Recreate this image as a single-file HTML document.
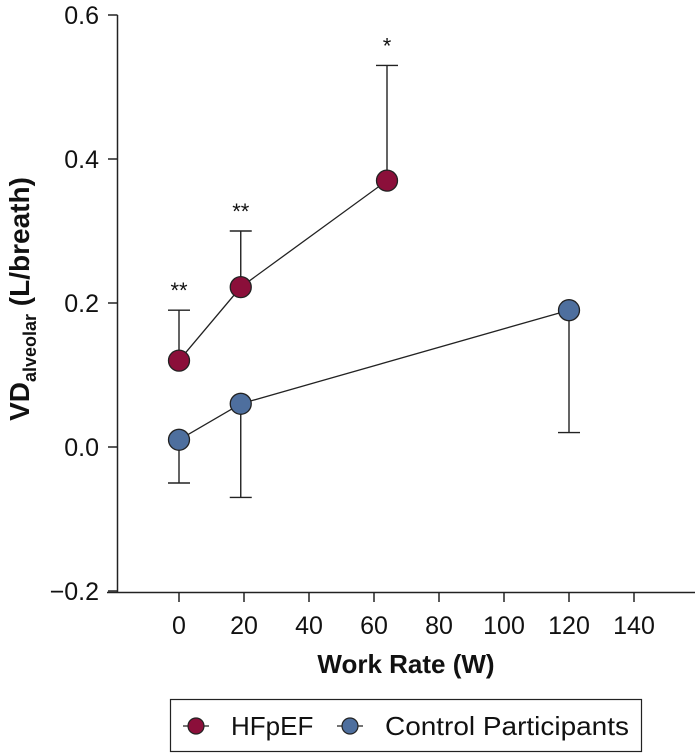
<!DOCTYPE html>
<html><head><meta charset="utf-8"><style>
html,body{margin:0;padding:0;background:#fff;}
svg{display:block;font-family:"Liberation Sans",Arial,sans-serif;}
</style></head><body>
<svg id="chart" width="695" height="755">
<g id="axes"></g>
<g id="marks"></g>
<text x="406" y="673" text-anchor="middle" font-size="26" font-weight="bold" fill="#111">Work Rate (W)</text>
<text transform="translate(29,299) rotate(-90)" text-anchor="middle" font-size="28" font-weight="bold" fill="#111">VD<tspan font-size="18" dy="7">alveolar</tspan><tspan dy="-7"> (L/breath)</tspan></text>
<g>
<rect x="170.5" y="699.5" width="471" height="52" fill="#fff" stroke="#222" stroke-width="1.2"/>
<g>
<line x1="183" y1="726" x2="209" y2="726" stroke="#222" stroke-width="1.2"/>
<circle cx="196" cy="726" r="8" fill="#8b0f3a" stroke="#222" stroke-width="1.2"/>
<text x="231" y="735" font-size="26" fill="#111">HFpEF</text></g>
<g>
<line x1="337" y1="726" x2="363" y2="726" stroke="#222" stroke-width="1.2"/>
<circle cx="350" cy="726" r="8" fill="#4e6f9e" stroke="#222" stroke-width="1.2"/>
<text x="385" y="735" font-size="26" fill="#111" textLength="244" lengthAdjust="spacingAndGlyphs">Control Participants</text></g>
</g>
</svg>
<script>
const xTicks=[0,20,40,60,80,100,120,140];
const yTicks=[-0.2,0.0,0.2,0.4,0.6];
const yTickLabels=["\u22120.2","0.0","0.2","0.4","0.6"];
const hfX=[0,19,64];
const hfY=[0.12,0.222,0.37];
const hfErr=[0.19,0.30,0.53];
const hfStars=["**","**","*"];
const ctX=[0,19,120];
const ctY=[0.01,0.06,0.19];
const ctErr=[-0.05,-0.07,0.02];
const NS="http://www.w3.org/2000/svg";
const xs=v=>179+v*3.25;
const ys=v=>447-v*720;
function mk(tag,attrs,parent){const e=document.createElementNS(NS,tag);for(const k in attrs)e.setAttribute(k,attrs[k]);parent.appendChild(e);return e;}
const ax=document.getElementById('axes'),mg=document.getElementById('marks');
let l=mk('line',{x1:117.5,y1:ys(0.6),x2:117.5,y2:592,stroke:'#222','stroke-width':1.5},ax);


l=mk('line',{x1:107,y1:592.5,x2:695,y2:592.5,stroke:'#222','stroke-width':1.5},ax);


yTicks.forEach((v,i)=>{
 const t=mk('line',{x1:108,y1:ys(v),x2:117.5,y2:ys(v),stroke:'#222','stroke-width':1.5},ax);
 
 
 const tx=mk('text',{x:99,y:ys(v)+9,'text-anchor':'end','font-size':25,fill:'#111'},ax);
 tx.textContent=yTickLabels[i];
 
 
});
xTicks.forEach(v=>{
 const t=mk('line',{x1:xs(v),y1:592,x2:xs(v),y2:602,stroke:'#222','stroke-width':1.5},ax);
 
 
 const tx=mk('text',{x:xs(v),y:634,'text-anchor':'middle','font-size':25,fill:'#111'},ax);
 tx.textContent=v;
 
 
});
function series(X,Y,E,color,name,stars){
 const ln=mk('polyline',{points:X.map((x,i)=>xs(x)+','+ys(Y[i])).join(' '),fill:'none',stroke:'#222','stroke-width':1.3},mg);
 
 
 X.forEach((x,i)=>{
  const e=mk('path',{d:`M${xs(x)},${ys(Y[i])}V${ys(E[i])}M${xs(x)-11},${ys(E[i])}H${xs(x)+11}`,stroke:'#222','stroke-width':1.4,fill:'none'},mg);
  
  
  if(stars){
   const s=mk('text',{x:xs(x),y:ys(E[i])-12,'text-anchor':'middle','font-size':22,fill:'#111'},mg);
   s.textContent=stars[i];
   
   
  }
 });
 X.forEach((x,i)=>{
  const c=mk('circle',{cx:xs(x),cy:ys(Y[i]),r:10.5,fill:color,stroke:'#222','stroke-width':1.3},mg);
  
  
 });
}
series(ctX,ctY,ctErr,'#4e6f9e','control',null);
series(hfX,hfY,hfErr,'#8b0f3a','hfpef',hfStars);
</script>
</body></html>
